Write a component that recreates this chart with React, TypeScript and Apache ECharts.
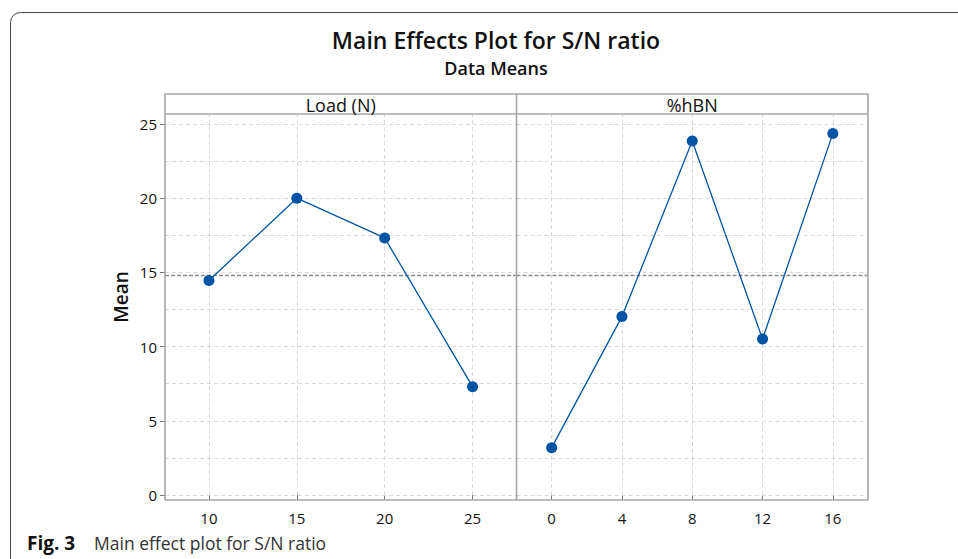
import React, { useEffect, useRef } from "react";
import * as echarts from "echarts";

const loadLevels = ["10", "15", "20", "25"];
const loadMeans = [14.45, 20.0, 17.32, 7.3];
const hbnLevels = ["0", "4", "8", "12", "16"];
const hbnMeans = [3.19, 12.02, 23.85, 10.51, 24.35];
const yTickLabels = [0, 5, 10, 15, 20, 25];
const yGridValues = [0, 2.5, 5, 7.5, 10, 12.5, 15, 17.5, 20, 22.5, 25];
const grandMean = 14.78;
const panelTitles = ["Load (N)", "%hBN"];

const FONT = "'Open Sans', 'Noto Sans', sans-serif";
const BLUE = "#0054a6";
const GRID_C = "#d9d9d9";
const FRAME_C = "#a6a6a6";

const PL = 165;
const PM = 516.5;
const PR = 868;
const STRIP_TOP = 94;
const PT = 114;
const PB = 500;
const ZERO_Y = 495;

export default function App() {
  const ref = useRef<HTMLDivElement>(null);
  useEffect(() => {
    if (!ref.current) return;
    const chart = echarts.init(ref.current, null, { renderer: "svg" });

    const makeX = (idx: number, data: string[]) => ({
      type: "category",
      gridIndex: idx,
      data,
      boundaryGap: true,
      offset: PB - ZERO_Y,
      axisLine: { show: false },
      axisTick: { show: true, alignWithLabel: true, length: 5, lineStyle: { color: "#777" } },
      axisLabel: { color: "#111", fontSize: 15, fontFamily: FONT, margin: 10 },
      splitLine: { show: false },
    });
    const makeY = (idx: number, showLabels: boolean) => ({
      type: "value",
      gridIndex: idx,
      min: 0,
      max: 25.67,
      interval: 5,
      axisLine: { show: false },
      axisTick: {
        show: showLabels,
        length: 5,
        customValues: yTickLabels,
        lineStyle: { color: "#777" },
      },
      axisLabel: {
        show: showLabels,
        customValues: yTickLabels,
        color: "#111",
        fontSize: 15,
        fontFamily: FONT,
        margin: 8,
        formatter: (v: number) => (Math.abs(v % 5) < 1e-6 ? String(v) : ""),
      },
      splitLine: { show: false },
    });

    const gridSeries = (idx: number, levels: string[]) => ({
      type: "line",
      xAxisIndex: idx,
      yAxisIndex: idx,
      data: levels.map(() => null),
      showSymbol: false,
      silent: true,
      z: 1,
      markLine: {
        silent: true,
        symbol: "none",
        label: { show: false },
        animation: false,
        data: [
          ...levels.map((l) => ({
            xAxis: l,
            lineStyle: { color: GRID_C, type: [4, 3], width: 1 },
          })),
          ...yGridValues.map((v) => ({
            yAxis: v,
            lineStyle: { color: GRID_C, type: [4, 3], width: 1 },
          })),
          {
            yAxis: grandMean,
            lineStyle: { color: "#8a8a8a", type: [4, 2], width: 1.3 },
          },
        ],
      },
    });

    const dataSeries = (idx: number, values: number[]) => ({
      type: "line",
      xAxisIndex: idx,
      yAxisIndex: idx,
      data: values,
      symbol: "circle",
      symbolSize: 11,
      z: 5,
      lineStyle: { color: BLUE, width: 1.3 },
      itemStyle: { color: BLUE },
    });

    const textEl = (text: string, x: number, y: number, font: string, extra: any = {}) => ({
      type: "text",
      x,
      y,
      z: 11,
      ...extra,
      style: {
        text,
        fill: "#111",
        font,
        textAlign: "center",
        textVerticalAlign: "middle",
        ...(extra.style || {}),
      },
    });

    chart.setOption({
      animation: false,
      backgroundColor: "#fff",
      grid: [
        { left: PL, top: PT, width: PM - PL, height: ZERO_Y - PT },
        { left: PM, top: PT, width: PR - PM, height: ZERO_Y - PT },
      ],
      xAxis: [makeX(0, loadLevels), makeX(1, hbnLevels)],
      yAxis: [makeY(0, true), makeY(1, false)],
      series: [
        gridSeries(0, loadLevels),
        gridSeries(1, hbnLevels),
        dataSeries(0, loadMeans),
        dataSeries(1, hbnMeans),
      ],
      graphic: [
        {
          type: "rect",
          shape: { x: 10.5, y: 12.5, width: 1200, height: 800, r: 10 },
          style: { fill: "none", stroke: "#444", lineWidth: 1 },
          silent: true,
        },
        {
          type: "rect",
          shape: { x: PL, y: STRIP_TOP, width: PR - PL, height: PB - STRIP_TOP },
          style: { fill: "none", stroke: FRAME_C, lineWidth: 1.6 },
          silent: true,
          z: 10,
        },
        {
          type: "line",
          shape: { x1: PL, y1: PT, x2: PR, y2: PT },
          style: { stroke: FRAME_C, lineWidth: 1.6 },
          silent: true,
          z: 10,
        },
        {
          type: "line",
          shape: { x1: PM, y1: STRIP_TOP, x2: PM, y2: PB },
          style: { stroke: FRAME_C, lineWidth: 1.6 },
          silent: true,
          z: 10,
        },
        textEl(panelTitles[0], (PL + PM) / 2, (STRIP_TOP + PT) / 2 + 1, `18px ${FONT}`),
        textEl(panelTitles[1], (PM + PR) / 2, (STRIP_TOP + PT) / 2 + 1, `18px ${FONT}`),
        textEl("Main Effects Plot for S/N ratio", 496, 40, `600 23px ${FONT}`),
        textEl("Data Means", 496, 68, `600 18px ${FONT}`),
        textEl("Mean", 121, 297, `600 19px ${FONT}`, { rotation: Math.PI / 2 }),
        textEl("Fig. 3", 27, 543, `bold 19px ${FONT}`, { style: { textAlign: "left" } }),
        textEl("Main effect plot for S/N ratio", 94, 543, `17.5px ${FONT}`, {
          style: { textAlign: "left", fill: "#333" },
        }),
      ],
    });
    return () => chart.dispose();
  }, []);
  return (
    <div
      ref={ref}
      style={{ position: "fixed", left: 0, top: 0, width: 958, height: 559 }}
    />
  );
}
